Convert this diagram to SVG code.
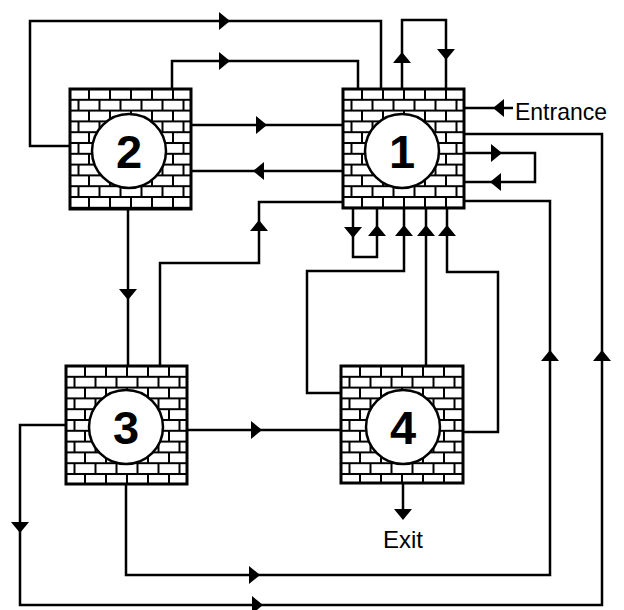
<svg xmlns="http://www.w3.org/2000/svg" xmlns:xlink="http://www.w3.org/1999/xlink" width="624" height="610" viewBox="0 0 624 610">
<style>
.wall{fill:url(#bricks);stroke:#000;stroke-width:3}
.hole{fill:#fff;stroke:#000;stroke-width:2.5}
.num{font-family:"Liberation Sans",Arial,sans-serif;font-weight:bold;font-size:47px;text-anchor:middle;fill:#000}
.lbl{font-family:"Liberation Sans",Arial,sans-serif;font-size:24px;fill:#000}
.wire{fill:none;stroke:#000;stroke-width:2.5;stroke-linejoin:miter}
</style>
<defs>
<pattern id="bricks" patternUnits="userSpaceOnUse" width="21" height="21.6">
<rect width="21" height="21.6" fill="#000"/>
<rect x="0" y="1" width="18" height="8.8" fill="#fff"/>
<rect x="20" y="1" width="1" height="8.8" fill="#fff"/>
<rect x="0" y="11.8" width="7.5" height="8.8" fill="#fff"/>
<rect x="9.5" y="11.8" width="11.5" height="8.8" fill="#fff"/>
</pattern>
<path id="arr" d="M-5,-9 L6,0 L-5,9 Z" fill="#000"/>
</defs>
<rect width="624" height="610" fill="#fff"/>

<g id="connectors">
<path class="wire" d="M70,146 H30 V21 H381 V89"/>
<path class="wire" d="M172,89 V61 H358 V89"/>
<path class="wire" d="M402,89 V20 H446 V89"/>
<path class="wire" d="M191,125 H343"/>
<path class="wire" d="M343,171 H191"/>
<path class="wire" d="M128,208 V366"/>
<path class="wire" d="M160,366 V263 H259 V202 H343"/>
<path class="wire" d="M513,108 H464"/>
<path class="wire" d="M66,425 H20 V605 H602 V134 H464"/>
<path class="wire" d="M464,153 H535 V182 H464"/>
<path class="wire" d="M126,484 V575 H550 V201 H464"/>
<path class="wire" d="M353,208 V257 H377 V208"/>
<path class="wire" d="M341,393 H307 V271 H404 V208"/>
<path class="wire" d="M426,366 V208"/>
<path class="wire" d="M463,432 H498 V272 H447 V208"/>
<path class="wire" d="M187,430 H341"/>
<path class="wire" d="M403,483 V515"/>
<use xlink:href="#arr" transform="translate(224,21)"/>
<use xlink:href="#arr" transform="translate(224,61)"/>
<use xlink:href="#arr" transform="translate(402,58) rotate(-90)"/>
<use xlink:href="#arr" transform="translate(446,54) rotate(90)"/>
<use xlink:href="#arr" transform="translate(261,125)"/>
<use xlink:href="#arr" transform="translate(259,171) rotate(180)"/>
<use xlink:href="#arr" transform="translate(128,294) rotate(90)"/>
<use xlink:href="#arr" transform="translate(259,226) rotate(-90)"/>
<use xlink:href="#arr" transform="translate(499,108) rotate(180)"/>
<use xlink:href="#arr" transform="translate(20,527) rotate(90)"/>
<use xlink:href="#arr" transform="translate(257,605)"/>
<use xlink:href="#arr" transform="translate(602,356) rotate(-90)"/>
<use xlink:href="#arr" transform="translate(496,153)"/>
<use xlink:href="#arr" transform="translate(496,182) rotate(180)"/>
<use xlink:href="#arr" transform="translate(254,575)"/>
<use xlink:href="#arr" transform="translate(550,356) rotate(-90)"/>
<use xlink:href="#arr" transform="translate(353,232) rotate(90)"/>
<use xlink:href="#arr" transform="translate(377,231) rotate(-90)"/>
<use xlink:href="#arr" transform="translate(404,231) rotate(-90)"/>
<use xlink:href="#arr" transform="translate(426,231) rotate(-90)"/>
<use xlink:href="#arr" transform="translate(447,231) rotate(-90)"/>
<use xlink:href="#arr" transform="translate(256,430)"/>
<use xlink:href="#arr" transform="translate(403,514) rotate(90)"/>
<text class="lbl" x="515" y="120" textLength="92" lengthAdjust="spacingAndGlyphs">Entrance</text>
<text class="lbl" x="403" y="548" text-anchor="middle">Exit</text>
</g>

<g id="node1" transform="translate(343,89)">
<rect class="wall" width="121" height="119"/>
<circle class="hole" cx="59" cy="62" r="37"/>
<text class="num" x="59" y="79">1</text>
</g>
<g id="node2" transform="translate(70,89)">
<rect class="wall" width="121" height="120"/>
<circle class="hole" cx="59" cy="62" r="37"/>
<text class="num" x="59" y="79">2</text>
</g>
<g id="node3" transform="translate(66,366)">
<rect class="wall" width="121" height="118"/>
<circle class="hole" cx="60" cy="61" r="37"/>
<text class="num" x="60" y="78">3</text>
</g>
<g id="node4" transform="translate(341,366)">
<rect class="wall" width="122" height="117"/>
<circle class="hole" cx="62" cy="61" r="37"/>
<text class="num" x="62" y="78">4</text>
</g>
</svg>
